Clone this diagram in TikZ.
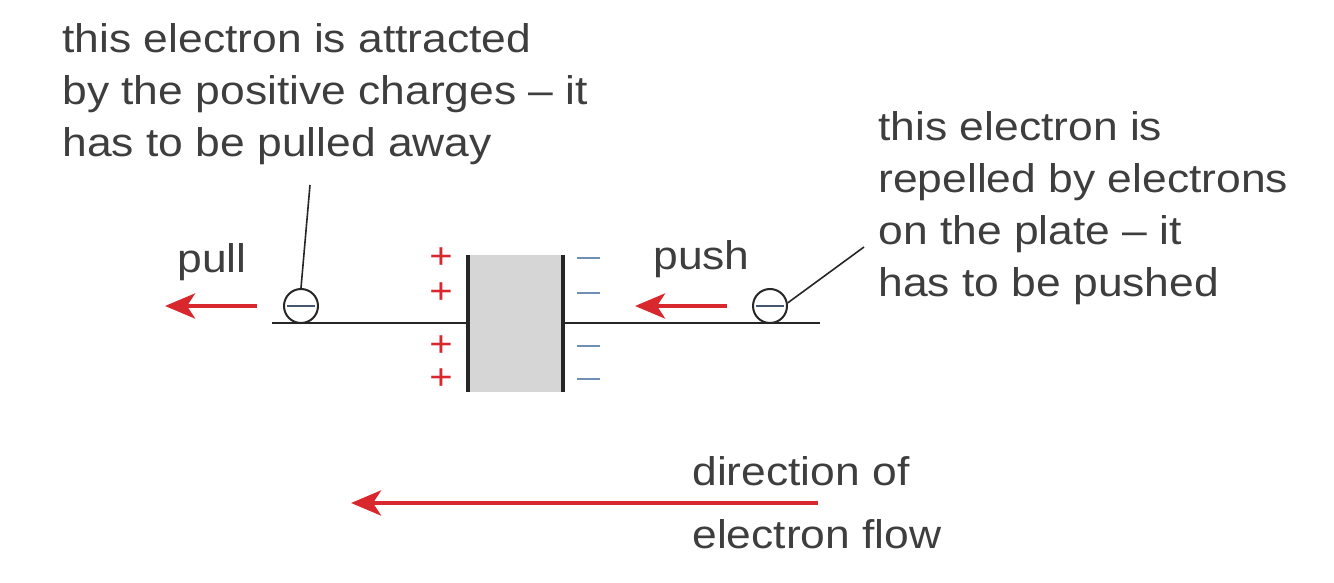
\documentclass[tikz,border=0pt]{standalone}
\usepackage{fontspec}
\setmainfont{Liberation Sans}[FakeStretch=1.11]
\usetikzlibrary{arrows.meta,calc}
\definecolor{txt}{HTML}{3E3E3E}
\definecolor{redc}{HTML}{D8282E}
\definecolor{bluec}{HTML}{6F8FB5}
\definecolor{plate}{HTML}{D6D6D6}
\tikzset{
  lbl/.style={text=txt, font=\fontsize{20}{26}\selectfont, inner sep=0pt, align=left},
  wire/.style={draw=black!85, line width=1.3pt},
  redarrow/.style={draw=redc, line width=2.3pt, -{Stealth[length=15pt,width=12.5pt,inset=4pt]}},
  electron/.style={circle, draw=black!85, line width=1pt, minimum size=17pt, inner sep=0pt, fill=white},
  leader/.style={draw=black!85, line width=0.8pt},
  plus/.style={text=redc, font=\fontsize{18}{18}\selectfont, inner sep=0pt},
  minus/.style={draw=bluec, line width=1.1pt}
}
\begin{document}
\begin{tikzpicture}[x=0.5pt,y=-0.5pt]
\useasboundingbox (0,0) rectangle (1334,583);
% text blocks
\node[lbl, anchor=north west] (ltxt) at (62,23) {this electron is attracted\\by the positive charges -- it\\has to be pulled away};
\node[lbl, anchor=north west] (rtxt) at (878,111) {this electron is\\repelled by electrons\\on the plate -- it\\has to be pushed};
% capacitor
\fill[plate] (468,255) rectangle (563,392);
\draw[black!85, line width=2pt] (468,255) -- (468,392);
\draw[black!85, line width=2pt] (563,255) -- (563,392);
\coordinate (lp) at (468,323);
\coordinate (rp) at (563,323);
\coordinate (lw) at (272,323);
\coordinate (rw) at (820,323);
\draw[wire] (lw) -- (lp);
\draw[wire] (rp) -- (rw);
% charges
\foreach \y in {258,293,346,379} {
  \node[plus] at (441,\y) {+};
  \draw[minus] (577,\y) -- (600,\y);
}
% electrons
\node[electron] (e1) at (301,306) {};
\draw[bluec!60!black, line width=0.9pt] ($(e1.west)+(4,0)$) -- ($(e1.east)+(-4,0)$);
\node[electron] (e2) at (770,306) {};
\draw[bluec!60!black, line width=0.9pt] ($(e2.west)+(4,0)$) -- ($(e2.east)+(-4,0)$);
% leaders
\coordinate (l1) at (310,185);
\draw[leader] (e1.north) -- (l1);
\coordinate (l2) at (864,247);
\draw[leader] (e2.10) -- (l2);
% pull / push
\node[lbl, anchor=base west] (pull) at (177,272) {pull};
\coordinate (pa1) at (257,306);
\coordinate (pa2) at (165,306);
\draw[redarrow] (pa1) -- (pa2);
\node[lbl, anchor=base west] (push) at (653,270) {push};
\coordinate (pb1) at (727,306);
\coordinate (pb2) at (635,306);
\draw[redarrow] (pb1) -- (pb2);
% bottom
\coordinate (f1) at (818,503);
\coordinate (f2) at (351,503);
\draw[redarrow] (f1) -- (f2);
\node[lbl, anchor=base west] (dir) at (692,485) {direction of};
\node[lbl, anchor=base west] (flow) at (692,548) {electron flow};
\end{tikzpicture}
\end{document}
